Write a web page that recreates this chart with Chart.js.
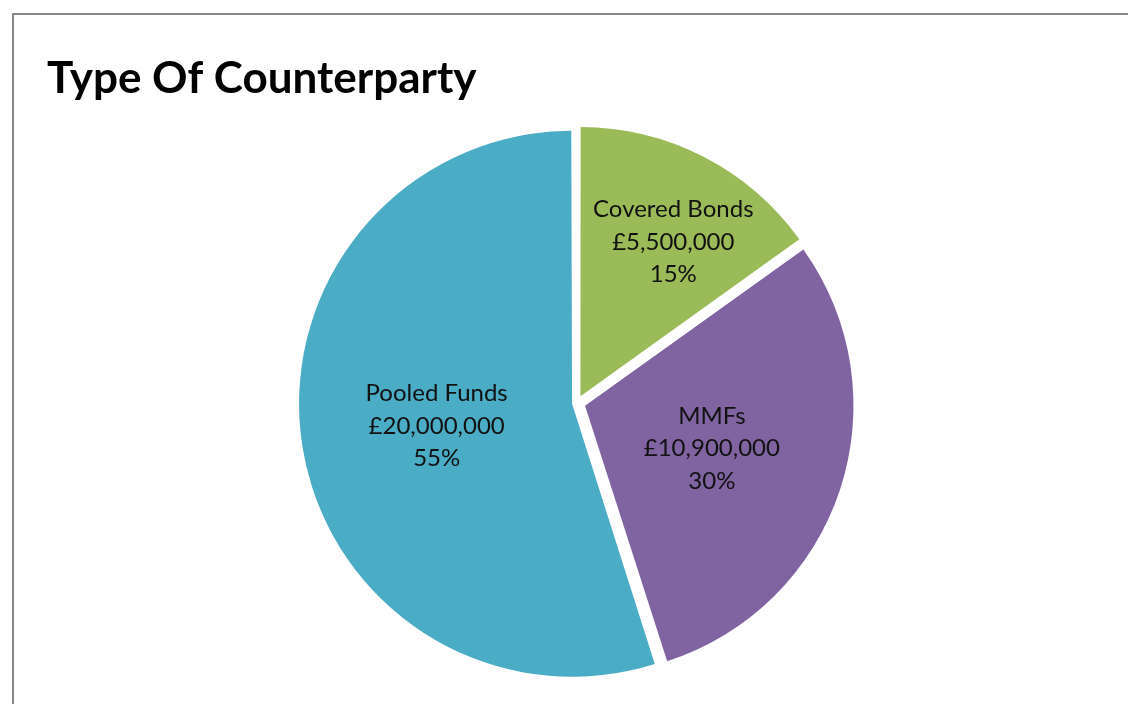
<!DOCTYPE html>
<html>
<head>
<meta charset="utf-8">
<script src="https://cdn.jsdelivr.net/npm/chart.js@4.4.0/dist/chart.umd.min.js"></script>
<style>
  html, body { margin: 0; padding: 0; background: #fff; }
  #frame { position: absolute; left: 12px; top: 13px; width: 1200px; height: 800px; border: 2px solid #898989; }
  #wrap { position: absolute; left: 0; top: 0; width: 1128px; height: 704px; }
</style>
</head>
<body>
<div id="frame"></div>
<div id="wrap"><canvas id="pieChart"></canvas></div>
<script>
// data
const CATEGORIES = ["Covered Bonds", "MMFs", "Pooled Funds"];
const AMOUNTS = [5500000, 10900000, 20000000];
const COLORS = ["#9bbb59", "#8064a2", "#4bacc6"];
const EXPLODE = [30, 34, 20];   // chart.js arc offset, gives ~9px pull-out each

const LABEL_FONT = "Lato";

// draws "name / £amount / pct" inside each slice
const sliceLabels = {
  id: 'sliceLabels',
  afterDatasetsDraw(chart) {
    const ctx = chart.ctx;
    const meta = chart.getDatasetMeta(0);
    const total = AMOUNTS.reduce((a, b) => a + b, 0);
    ctx.save();
    ctx.font = '24px ' + LABEL_FONT;
    ctx.fillStyle = '#111';
    ctx.textAlign = 'center';
    ctx.textBaseline = 'middle';
    meta.data.forEach((arc, i) => {
      const p = arc.getProps(['x', 'y', 'startAngle', 'endAngle', 'outerRadius', 'circumference']);
      const mid = (p.startAngle + p.endAngle) / 2;
      const small = p.circumference < 1.2;
      const frac = small ? 0.68 : 0.53;
      const cx = p.x + Math.cos(mid) * p.outerRadius * frac + (small ? 13 : 0);
      const cy = p.y + Math.sin(mid) * p.outerRadius * frac + 1;
      const lines = [
        CATEGORIES[i],
        '£' + AMOUNTS[i].toLocaleString('en-GB'),
        Math.round(AMOUNTS[i] / total * 100) + '%'
      ];
      lines.forEach((t, k) => ctx.fillText(t, cx, cy + (k - 1) * 32.5));
    });
    ctx.restore();
  }
};

const ctx = document.getElementById('pieChart').getContext('2d');
const pie = new Chart(ctx, {
  type: 'pie',
  data: {
    labels: CATEGORIES,
    datasets: [{
      data: AMOUNTS,
      backgroundColor: COLORS,
      borderWidth: 0,
      offset: EXPLODE,
    }]
  },
  options: {
    responsive: true,
    maintainAspectRatio: false,
    animation: false,
    events: [],
    radius: 268,
    layout: {
      padding: { left: 47, right: 21, top: 0, bottom: 10 }
    },
    plugins: {
      legend: { display: false },
      tooltip: { enabled: false },
      title: {
        display: true,
        text: 'Type Of Counterparty',
        align: 'start',
        color: '#000',
        font: { family: 'Lato', size: 44, weight: 'bold', lineHeight: 1.2 },
        padding: { top: 52, bottom: 7.2 },
      },
    },
  },
  plugins: [sliceLabels],
});
</script>
</body>
</html>
